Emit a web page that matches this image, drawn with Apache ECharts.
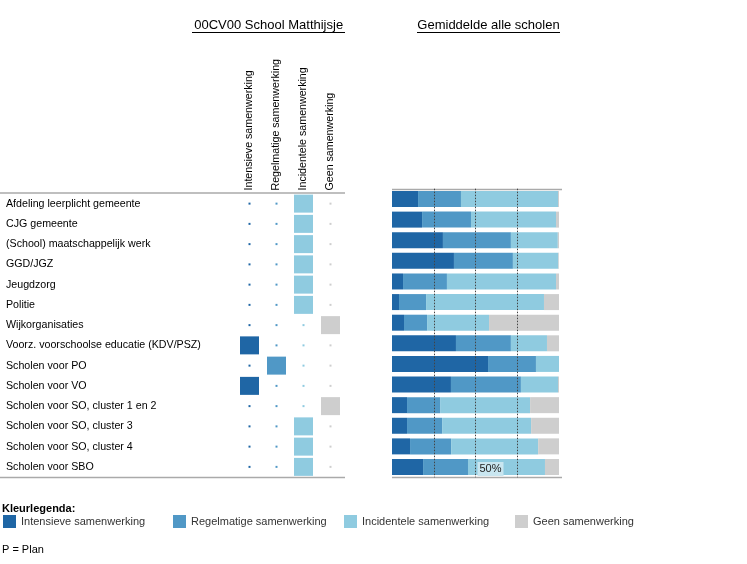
<!DOCTYPE html>
<html>
<head>
<meta charset="utf-8">
<script src="https://cdn.jsdelivr.net/npm/echarts@6/dist/echarts.min.js"></script>
<style>
html,body{margin:0;padding:0;background:#fff;}
#chart{width:747px;height:564px;}
</style>
</head>
<body>
<div id="chart"></div>
<script>
const categories = [
  'Afdeling leerplicht gemeente','CJG gemeente','(School) maatschappelijk werk','GGD/JGZ',
  'Jeugdzorg','Politie','Wijkorganisaties','Voorz. voorschoolse educatie (KDV/PSZ)',
  'Scholen voor PO','Scholen voor VO','Scholen voor SO, cluster 1 en 2',
  'Scholen voor SO, cluster 3','Scholen voor SO, cluster 4','Scholen voor SBO'
];
const columns = ['Intensieve samenwerking','Regelmatige samenwerking','Incidentele samenwerking','Geen samenwerking'];
// School Matthijsje: 1 = chosen level
const schoolIntensief    = [0,0,0,0,0,0,0,1,0,1,0,0,0,0];
const schoolRegelmatig   = [0,0,0,0,0,0,0,0,1,0,0,0,0,0];
const schoolIncidenteel  = [1,1,1,1,1,1,0,0,0,0,0,1,1,1];
const schoolGeen         = [0,0,0,0,0,0,1,0,0,0,1,0,0,0];
// Average all schools (%)
const avgIntensief   = [15.6,18.0,30.5,37.1,6.6,4.2,7.2,38.3,57.5,35.3,9.0,9.0,10.8,18.6];
const avgRegelmatig  = [25.7,29.3,40.7,35.3,26.3,16.2,13.8,32.9,28.7,41.9,19.8,21.0,24.6,26.9];
const avgIncidenteel = [58.1,50.9,28.1,27.2,65.3,70.6,37.1,21.6,13.8,22.2,53.9,53.3,52.1,46.1];
const avgGeen        = [0.6,1.8,0.7,0.4,1.8,9.0,41.9,7.2,0.0,0.6,17.3,16.7,12.5,8.4];
const xTicks = [0,25,50,75,100];
const refLines = [25,50,75];

const colors = ['#1f66a5','#5098c6','#8fcbe0','#cecece'];
const FONT = "'Liberation Sans', Arial, sans-serif";
const schoolCols = [schoolIntensief, schoolRegelmatig, schoolIncidenteel, schoolGeen];
const avgCols = [avgIntensief, avgRegelmatig, avgIncidenteel, avgGeen];

const chart = echarts.init(document.getElementById('chart'));

const series = [];
schoolCols.forEach((arr, ci) => {
  series.push({
    name: columns[ci],
    type: 'scatter',
    xAxisIndex: 0, yAxisIndex: 0,
    symbol: 'rect',
    symbolSize: v => v[2] ? [19, 18] : [2, 2],
    itemStyle: { color: colors[ci], opacity: 1 },
    silent: true,
    data: arr.map((f, ri) => [columns[ci], categories[ri], f])
  });
});
avgCols.forEach((arr, ci) => {
  const s = {
    name: columns[ci],
    type: 'bar',
    stack: 'avg',
    xAxisIndex: 1, yAxisIndex: 1,
    barWidth: 16,
    itemStyle: { color: colors[ci], opacity: 1 },
    silent: true,
    data: arr
  };
  if (ci === 3) {
    s.markLine = {
      silent: true, symbol: 'none', z: 10,
      label: { show: false },
      lineStyle: { type: [1.5, 1.5], color: '#444', width: 1, opacity: 1 },
      data: refLines.map(v => ({ xAxis: v }))
    };
    s.markPoint = {
      symbol: 'rect', symbolSize: 0, silent: true, z: 11,
      data: [{ coord: [50, categories[categories.length - 1]] }],
      label: {
        show: true, formatter: '50%', color: '#222', fontFamily: FONT, fontSize: 11,
        backgroundColor: '#c9e6f0', padding: [2, 2, 1, 2],
        position: 'inside', offset: [15, 2]
      }
    };
  }
  series.push(s);
});

const legendLefts = [3, 173, 344, 515];
const legends = columns.map((c, i) => ({
  data: [{ name: c, itemStyle: { color: colors[i], opacity: 1 } }],
  left: legendLefts[i], top: 515, padding: 0,
  icon: 'rect', itemWidth: 13, itemHeight: 13, itemGap: 5,
  selectedMode: false,
  textStyle: { fontFamily: FONT, fontSize: 11, color: '#333' }
}));

const rule = (x1, x2, y) => ({
  type: 'line', silent: true,
  shape: { x1: x1, y1: y, x2: x2, y2: y },
  style: { stroke: '#aaaaaa', lineWidth: 1.5 }
});

chart.setOption({
  animation: false,
  backgroundColor: '#ffffff',
  textStyle: { fontFamily: FONT },
  legend: legends,
  grid: [
    { left: 236, top: 193.5, width: 108, height: 283.5 },
    { left: 392, top: 188.7, width: 167, height: 288.6 }
  ],
  xAxis: [
    {
      gridIndex: 0, type: 'category', data: columns, position: 'top',
      axisLine: { show: false }, axisTick: { show: false },
      axisLabel: { rotate: -90, margin: 3, fontSize: 10.67, color: '#000', fontFamily: FONT, interval: 0 }
    },
    {
      gridIndex: 1, type: 'value', min: xTicks[0], max: xTicks[xTicks.length - 1], interval: 25,
      axisLine: { show: false }, axisTick: { show: false }, axisLabel: { show: false },
      splitLine: { show: false }
    }
  ],
  yAxis: [
    {
      gridIndex: 0, type: 'category', data: categories, inverse: true,
      axisLine: { show: false }, axisTick: { show: false },
      axisLabel: { align: 'left', margin: 230, fontSize: 10.67, color: '#000', fontFamily: FONT, interval: 0 }
    },
    {
      gridIndex: 1, type: 'category', data: categories, inverse: true,
      axisLine: { show: false }, axisTick: { show: false }, axisLabel: { show: false }
    }
  ],
  series: series,
  graphic: [
    { type: 'text', x: 268.7, y: 25, silent: true,
      style: { text: '00CV00 School Matthijsje', font: '13px ' + FONT, fill: '#000', align: 'center', verticalAlign: 'middle' } },
    { type: 'line', silent: true, shape: { x1: 192, y1: 32.5, x2: 345, y2: 32.5 }, style: { stroke: '#000', lineWidth: 1 } },
    { type: 'text', x: 488.5, y: 25, silent: true,
      style: { text: 'Gemiddelde alle scholen', font: '13px ' + FONT, fill: '#000', align: 'center', verticalAlign: 'middle' } },
    { type: 'line', silent: true, shape: { x1: 417, y1: 32.5, x2: 560, y2: 32.5 }, style: { stroke: '#000', lineWidth: 1 } },
    rule(0, 345, 193), rule(0, 345, 477.5),
    rule(392, 562, 189.5), rule(392, 562, 477.5),
    { type: 'text', x: 2, y: 509, silent: true,
      style: { text: 'Kleurlegenda:', font: 'bold 11px ' + FONT, fill: '#000', verticalAlign: 'middle' } },
    { type: 'text', x: 2, y: 550, silent: true,
      style: { text: 'P = Plan', font: '11px ' + FONT, fill: '#000', verticalAlign: 'middle' } }
  ]
});
</script>
</body>
</html>
